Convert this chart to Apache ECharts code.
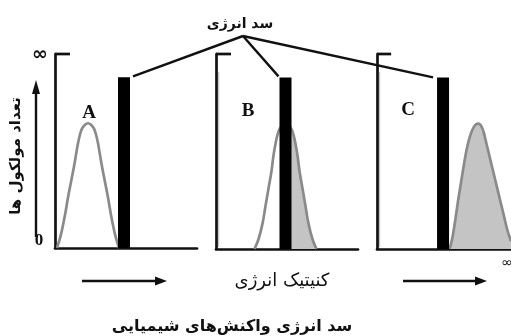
<!DOCTYPE html>
<html><head><meta charset="utf-8">
<script src="https://cdn.jsdelivr.net/npm/echarts@6/dist/echarts.min.js"></script>
<style>html,body{margin:0;padding:0;background:#fff}#c{width:511px;height:336px}</style>
</head><body><div id="c"></div>
<script>
// Three energy distributions against the same activation barrier
const panelNames = ['A', 'B', 'C'];
const barrierX = [69, 69.5, 70];
const barrierTop = [88, 88, 88];
const curveA = [[2,0],[6,7],[10,17],[13,26],[16,34],[19,42],[21,48],[23,54],[25,58.5],[27,61.5],[30,63.5],[33,64.3],[36,63.5],[39,61.5],[41,58.5],[43,54],[45,48],[47,42],[50,34],[53,26],[56,17],[60,7],[64,0]];
const curveB = [[38.5,0],[42.5,5],[46.5,13],[49.5,22],[52.5,31],[55.5,40],[57.5,48],[59.5,54],[61.5,58.5],[63.5,61.5],[66.5,63.5],[69.5,64.3],[72.5,63.5],[75.5,61.5],[77.5,58.5],[79.5,54],[81.5,48],[83.5,40],[86.5,31],[89.5,22],[92.5,13],[96.5,5],[100.5,0]];
const curveC = [[77,0],[80,6],[83,15],[86,25],[89,34],[92,43],[95,51],[98,57],[101,61],[104,63.5],[107,64.3],[110,63.5],[113,60],[116,54],[119,48],[123,40],[127,32],[131,24],[134,18],[138,10],[142,4]];
const curves = [curveA, curveB, curveC];
const topTick = [[0,100],[15,100]];

const yTitle = 'تعداد مولکول ها';
const xTitle = 'کنیتیک انرژی';
const barrierTitle = 'سد انرژی';
const chartTitle = 'سد انرژی واکنش\u200cهای شیمیایی';

const FA = '"DejaVu Sans", sans-serif';
const SERIF = '"Liberation Serif", "DejaVu Serif", serif';

const gridBoxes = [
  {left:55, top:54, width:142, height:194},
  {left:216, top:54, width:142, height:195},
  {left:377, top:54, width:142, height:195}
];

const chart = echarts.init(document.getElementById('c'), null, {renderer:'canvas'});

const axisLine = {show:true, onZero:false, lineStyle:{color:'#111', width:2.7}};
const grid = gridBoxes.map(g => Object.assign({containLabel:false}, g));
const xAxis = gridBoxes.map((g,i) => ({type:'value', gridIndex:i, min:0, max:142, axisLine, axisTick:{show:false}, axisLabel:{show:false}, splitLine:{show:false}}));
const yAxis = gridBoxes.map((g,i) => ({type:'value', gridIndex:i, min:0, max:100, axisLine, axisTick:{show:false}, axisLabel:{show:false}, splitLine:{show:false}}));

const series = [];
curves.forEach((pts, i) => {
  // share of molecules above the barrier
  series.push({type:'line', xAxisIndex:i, yAxisIndex:i, data:pts.filter(p => p[0] >= barrierX[i]), smooth:0.35, symbol:'none',
    lineStyle:{width:0}, areaStyle:{color:'#c4c4c4', opacity:1}, z:1, silent:true});
  series.push({type:'line', xAxisIndex:i, yAxisIndex:i, data:pts, smooth:0.35, symbol:'none',
    lineStyle:{color:'#8a8a8a', width:2.7}, z:2, silent:true});
  series.push({type:'bar', xAxisIndex:i, yAxisIndex:i, data:[[barrierX[i], barrierTop[i]]], barWidth:12,
    itemStyle:{color:'#000'}, z:3, silent:true});
  series.push({type:'line', xAxisIndex:i, yAxisIndex:i, data:topTick, symbol:'none', clip:false,
    lineStyle:{color:'#111', width:2.7}, z:3, silent:true});
});

chart.setOption({animation:false, backgroundColor:'#fff', grid, xAxis, yAxis, series});

const graphics = [];
// faint shadow next to the vertical axes of the second and third panels
[1, 2].forEach(i => {
  const g = gridBoxes[i];
  graphics.push({type:'line', z:-1, shape:{x1:g.left+2.5, y1:g.top+18, x2:g.left+2.5, y2:g.top+g.height-2},
    style:{stroke:'#c8c8c8', lineWidth:1.5}});
});
// leader lines from the barrier caption to each bar
const apex = [243, 36];
const leaderOffset = [[9,-1],[-7,-1],[-10,0]];
barrierX.forEach((bx, i) => {
  const p = chart.convertToPixel({gridIndex:i}, [bx, barrierTop[i]]);
  graphics.push({type:'line', shape:{x1:apex[0], y1:apex[1], x2:p[0]+leaderOffset[i][0], y2:p[1]+leaderOffset[i][1]},
    style:{stroke:'#111', lineWidth:2.4}});
});
// panel letters
const letterPos = [[89,113],[248,111],[408,110]];
panelNames.forEach((n, i) => {
  graphics.push({type:'text', x:letterPos[i][0], y:letterPos[i][1],
    style:{text:n, font:'bold 19px ' + SERIF, fill:'#111', align:'center', verticalAlign:'middle'}});
});
// vertical axis marks and arrow
graphics.push({type:'text', x:40, y:55, style:{text:'∞', font:'bold 19px ' + FA, fill:'#111', align:'center', verticalAlign:'middle'}});
graphics.push({type:'text', x:39, y:241, style:{text:'0', font:'bold 17px ' + SERIF, fill:'#111', align:'center', verticalAlign:'middle'}});
graphics.push({type:'line', shape:{x1:36, y1:237, x2:36, y2:92}, style:{stroke:'#111', lineWidth:2.4}});
graphics.push({type:'polygon', shape:{points:[[36,80],[32,94],[40,94]]}, style:{fill:'#111'}});
graphics.push({type:'text', x:16, y:156, rotation:Math.PI/2,
  style:{text:yTitle, font:'bold 15px ' + FA, fill:'#111', align:'center', verticalAlign:'middle'}});
// horizontal arrows and captions
[[82,167],[403,487]].forEach(a => {
  graphics.push({type:'line', shape:{x1:a[0], y1:281, x2:a[1]-9, y2:281}, style:{stroke:'#111', lineWidth:2.4}});
  graphics.push({type:'polygon', shape:{points:[[a[1],281],[a[1]-12,276.5],[a[1]-12,285.5]]}, style:{fill:'#111'}});
});
graphics.push({type:'text', x:507, y:263, style:{text:'∞', font:'14px ' + FA, fill:'#111', align:'center', verticalAlign:'middle'}});
graphics.push({type:'text', x:282, y:281, style:{text:xTitle, font:'18px ' + FA, fill:'#111', align:'center', verticalAlign:'middle'}});
graphics.push({type:'text', x:240, y:24, style:{text:barrierTitle, font:'bold 14px ' + FA, fill:'#111', align:'center', verticalAlign:'middle'}});
graphics.push({type:'text', x:232, y:327, style:{text:chartTitle, font:'bold 16px ' + FA, fill:'#111', align:'center', verticalAlign:'middle'}});

chart.setOption({graphic:{elements:graphics}});
</script>
</body></html>
